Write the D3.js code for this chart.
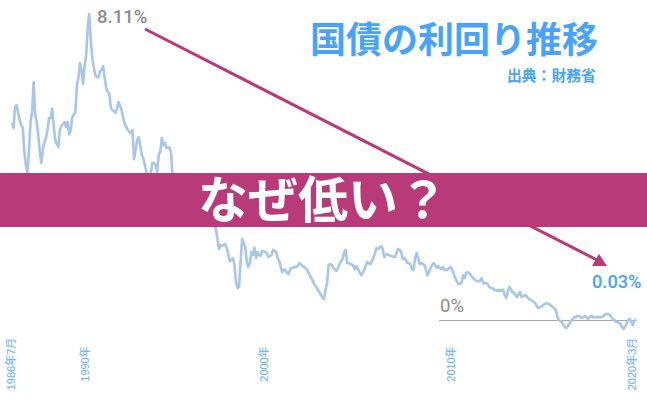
<html>
<head>
  <meta charset="utf-8">
  <title>国債の利回り推移</title>
  <script src="https://d3js.org/d3.v7.min.js"></script>
  <style>
    body { margin: 0; background: #fff; }
    text { font-family: "Liberation Sans", "Noto Sans CJK JP", sans-serif; }
  </style>
</head>
<body>
  <script>

	// monthly yield in percent, 1986/7 to 2020/3
	var yields = [
	  5.22,5.09,5.65,5.70,5.49,5.30,5.17,5.09,4.46,4.11,3.90,4.51,5.25,5.52,6.31,5.44,5.25,4.91,4.46,4.17,
	  4.56,4.72,4.83,5.04,5.36,5.36,5.60,5.15,4.78,4.67,4.59,5.04,5.15,5.20,5.25,5.12,5.25,4.93,5.04,5.36,
	  5.46,5.49,6.23,6.42,6.81,6.63,6.26,6.73,7.02,7.74,8.11,7.42,6.95,6.68,6.49,6.44,6.44,6.60,6.63,6.73,
	  6.42,6.15,6.05,6.00,5.62,5.57,5.54,5.49,5.62,5.78,5.67,5.57,5.36,5.20,5.12,5.04,4.99,4.96,5.04,4.27,
	  4.51,4.78,4.85,4.64,4.38,4.30,4.11,3.93,3.77,3.82,3.93,4.17,4.17,4.11,3.93,4.38,4.46,4.83,4.64,4.70,
	  4.56,4.59,4.56,4.43,3.77,3.58,3.32,3.19,3.24,3.45,3.58,3.66,3.72,3.77,3.82,3.77,3.72,3.66,3.72,3.66,
	  3.56,3.45,3.29,3.14,2.98,3.06,2.95,2.87,2.76,2.68,2.60,2.52,2.42,2.18,1.89,2.00,1.97,2.00,2.02,1.92,
	  1.76,1.57,1.60,1.65,1.47,1.02,0.86,0.89,1.55,2.16,2.05,1.94,1.55,1.42,1.52,1.81,1.73,1.92,1.65,1.81,
	  1.73,1.71,1.84,1.84,1.81,1.79,1.68,1.71,1.73,1.87,1.84,1.81,1.65,1.57,1.42,1.28,1.34,1.34,1.26,1.23,
	  1.34,1.39,1.39,1.42,1.42,1.44,1.52,1.49,1.44,1.42,1.39,1.34,1.26,1.18,1.12,1.02,0.94,0.89,0.81,0.75,
	  0.67,0.62,0.57,0.81,0.99,1.47,1.49,1.47,1.39,1.36,1.31,1.39,1.49,1.57,1.63,1.79,1.87,1.52,1.52,1.49,
	  1.49,1.44,1.36,1.44,1.36,1.28,1.20,1.26,1.34,1.44,1.55,1.52,1.49,1.57,1.65,1.79,1.92,1.89,1.92,1.97,
	  1.89,1.68,1.73,1.76,1.73,1.71,1.71,1.68,1.68,1.79,1.89,1.87,1.81,1.63,1.65,1.60,1.52,1.52,1.47,1.36,
	  1.34,1.65,1.79,1.63,1.49,1.52,1.49,1.47,1.34,1.20,1.28,1.39,1.47,1.52,1.47,1.39,1.44,1.39,1.36,1.42,
	  1.34,1.34,1.34,1.39,1.42,1.34,1.23,1.12,1.04,0.97,0.97,0.99,1.20,1.12,1.26,1.28,1.26,1.20,1.15,1.10,
	  1.07,1.04,1.04,1.04,1.12,0.99,0.99,0.99,0.97,0.89,0.86,0.86,0.81,0.81,0.78,0.81,0.78,0.81,0.81,0.67,
	  0.60,0.75,0.89,0.83,0.75,0.73,0.67,0.62,0.70,0.75,0.62,0.65,0.67,0.65,0.60,0.57,0.54,0.52,0.49,0.44,
	  0.36,0.33,0.36,0.38,0.41,0.44,0.46,0.44,0.44,0.38,0.36,0.33,0.28,0.12,0.01,-0.01,-0.04,-0.12,-0.17,-0.20,
	  -0.15,-0.07,-0.01,0.04,0.09,0.09,0.12,0.12,0.09,0.07,0.09,0.12,0.09,0.04,0.09,0.12,0.09,0.09,0.09,0.09,
	  0.09,0.09,0.09,0.12,0.17,0.17,0.17,0.15,0.09,0.04,0.01,-0.04,-0.04,-0.07,-0.09,-0.17,-0.22,-0.15,-0.07,0.01,
	  0.04,-0.04,-0.12,-0.01,0.03
	];
	var tickMonths = [-1, 47, 163, 284, 401]; // months since 1986/7
	var tickLabels = ['1986年7月', '1990年', '2000年', '2010年', '2020年3月'];

	var width = 647, height = 400;
	var pink = '#b83a78', blue = '#4aa3fb', gray = '#8c8c8c';

	var svg = d3.select('body')
	            .append('svg')
	              .attr('width', width)
	              .attr('height', height)
	              .style('display', 'block');

	var x = d3.scaleLinear().domain([0, yields.length - 1]).range([12, 636]);
	var y = d3.scaleLinear().domain([0, 8.11]).range([320.5, 14]);

	// zero line
	svg.append('line')
	  .attr('x1', 439).attr('x2', 637)
	  .attr('y1', y(0)).attr('y2', y(0))
	  .attr('stroke', '#aaaaaa')
	  .attr('stroke-width', 1);

	var line = d3.line()
	  .x(function(d, i){ return x(i); })
	  .y(function(d){ return y(d); });

	svg.append('path')
	  .datum(yields)
	  .attr('d', line)
	  .attr('fill', 'none')
	  .attr('stroke', '#a8c6e6')
	  .attr('stroke-width', 2.6)
	  .attr('stroke-linejoin', 'round');

	// rotated month labels
	var axis = svg.append('g')
	  .attr('transform', 'translate(0,364)')
	  .call(d3.axisBottom(x)
	    .tickValues(tickMonths)
	    .tickSize(0)
	    .tickFormat(function(d, i){ return tickLabels[i]; }));
	axis.select('.domain').remove();
	axis.selectAll('text')
	  .attr('transform', 'rotate(-90)')
	  .attr('x', 0)
	  .attr('y', 0)
	  .attr('dy', '0.35em')
	  .attr('text-anchor', 'middle')
	  .attr('font-size', 11)
	  .attr('fill', '#62aef8')
	  .style('font-family', '"Liberation Sans", "Noto Sans CJK JP", sans-serif');

	// arrow
	svg.append('line')
	  .attr('x1', 145).attr('y1', 29)
	  .attr('x2', 597).attr('y2', 260)
	  .attr('stroke', pink)
	  .attr('stroke-width', 3);
	svg.append('path')
	  .attr('d', 'M607,266L592,266L599,254Z')
	  .attr('fill', pink);

	// band
	svg.append('rect')
	  .attr('x', 0).attr('y', 173)
	  .attr('width', width).attr('height', 54)
	  .attr('fill', pink);

	function label(str, px, py, size, color, weight, family){
	  svg.append('text')
	    .attr('x', px).attr('y', py)
	    .attr('dy', '0.35em')
	    .attr('font-size', size)
	    .attr('font-weight', weight)
	    .attr('fill', color)
	    .style('font-family', family || null)
	    .text(str);
	}

	label('国債の利回り推移', 310, 40, 36, blue, 700);
	label('出典：財務省', 507, 76, 14.8, blue, 700);
	label('なぜ低い？', 198, 200, 50, '#ffffff', 700);
	label('8.11%', 97, 17, 18.5, gray, 500, 'Roboto');
	label('0.03%', 592, 282, 18.2, blue, 500, 'Roboto');
	label('0%', 440, 306, 18.5, gray, 400, 'Roboto');

  </script>
</body>
</html>
